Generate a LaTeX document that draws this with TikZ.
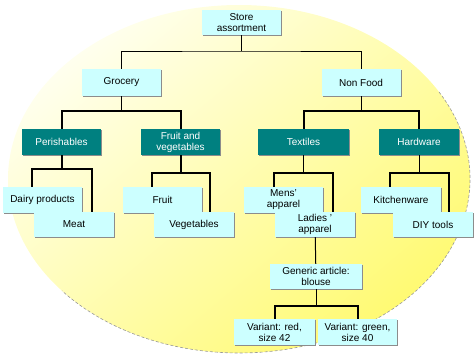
\documentclass[tikz,border=0pt]{standalone}
\usepackage{fontspec}
\setmainfont{Liberation Sans}
\usetikzlibrary{shadows}
\definecolor{boxcyan}{RGB}{204,255,255}
\definecolor{boxteal}{RGB}{0,128,128}
\definecolor{ellA}{RGB}{255,255,238}
\definecolor{ellB}{RGB}{255,250,115}
\begin{document}
\begin{tikzpicture}[x=1pt,y=-1pt,
  base/.style={inner sep=0pt, align=center, minimum height=26pt, minimum width=79pt,
    font=\fontsize{10}{11}\selectfont,
    general shadow={shadow xshift=1pt, shadow yshift=-1pt, fill=black!45}},
  lbox/.style={base, fill=boxcyan, text=black},
  tbox/.style={base, fill=boxteal, text=white},
  thn/.style={line width=1pt, black},
  thk/.style={line width=2pt, black}]
\useasboundingbox (0,0) rectangle (475,356);
% background ellipse
\shade[top color=ellA, bottom color=ellB, shading angle=40] (239,179) ellipse [x radius=231, y radius=174];
\draw[black!40, densely dashed, line width=0.6pt] (239,179) ++(-30:231 and 174) arc[start angle=-30, end angle=140, x radius=231, y radius=174];
% nodes
\node[lbox, minimum height=25pt] (store) at (241.5,22.5) {Store\\assortment};
\node[lbox, minimum height=27pt] (groc) at (121.5,82.5) {Grocery};
\node[lbox, minimum height=27pt] (nonf) at (361,82.5) {Non Food};
\node[tbox] (per) at (61.5,142) {Perishables};
\node[tbox] (fav) at (180.5,142) {Fruit and\\vegetables};
\node[tbox, minimum width=91pt] (tex) at (303.5,142) {Textiles};
\node[tbox, minimum width=80pt] (hard) at (419,142) {Hardware};
\node[lbox] (dairy) at (42.5,200) {Dairy products};
\node[lbox, minimum height=25pt, minimum width=80pt] (meat) at (74,224.5) {Meat};
\node[lbox] (fruit) at (162.5,200) {Fruit};
\node[lbox, minimum height=25pt, minimum width=80pt] (veg) at (194,224.5) {Vegetables};
\node[lbox] (mens) at (283.5,200) {Mens'\\apparel};
\node[lbox, minimum height=25pt, minimum width=80pt] (ladies) at (315,224.5) {Ladies '\\apparel};
\node[lbox, minimum width=80pt] (kitch) at (401,200) {Kitchenware};
\node[lbox, minimum height=25pt, minimum width=80pt] (diy) at (433,224.5) {DIY tools};
\node[lbox, minimum height=25pt, minimum width=92pt] (gen) at (316,276.5) {Generic article:\\blouse};
\node[lbox, minimum width=81pt] (vred) at (274.5,332) {Variant: red,\\size 42};
\node[lbox] (vgreen) at (357.5,332) {Variant: green,\\size 40};
% connectors level 1
\draw[thn] (store) -- (store |- 0,51);
\draw[thn] (groc) |- (store |- 0,51) -| (nonf);
% level 2
\draw[thn] (groc) -- (groc |- 0,111);
\draw[thk] (per) |- (groc |- 0,111) -| (fav);
\draw[thn] (nonf) -- (nonf |- 0,111);
\draw[thk] (tex) |- (nonf |- 0,111) -| (hard);
% level 3
\draw[thk] (per) -- (per |- 0,169);
\draw[thk] ([xshift=-10.5pt]dairy.north) |- ([xshift=18pt]meat.north |- 0,169) -- ([xshift=18pt]meat.north);
\draw[thk] (fav) -- (fav |- 0,173);
\draw[thk] ([xshift=-10.5pt]fruit.north) |- ([xshift=16pt]veg.north |- 0,173) -- ([xshift=16pt]veg.north);
\draw[thn] (tex) -- (tex |- 0,173);
\draw[thk] ([xshift=-9.5pt]mens.north) |- ([xshift=18pt]ladies.north |- 0,173) -- ([xshift=18pt]ladies.north);
\draw[thn] (hard) -- (hard |- 0,173);
\draw[thk] ([xshift=-11pt]kitch.north) |- ([xshift=16pt]diy.north |- 0,173) -- ([xshift=16pt]diy.north);
% level 4
\draw[thn] (ladies) -- (gen);
\draw[thn] (gen) -- (gen |- 0,306);
\draw[thk] (vred) |- (gen |- 0,306) -| (vgreen);
\end{tikzpicture}
\end{document}
